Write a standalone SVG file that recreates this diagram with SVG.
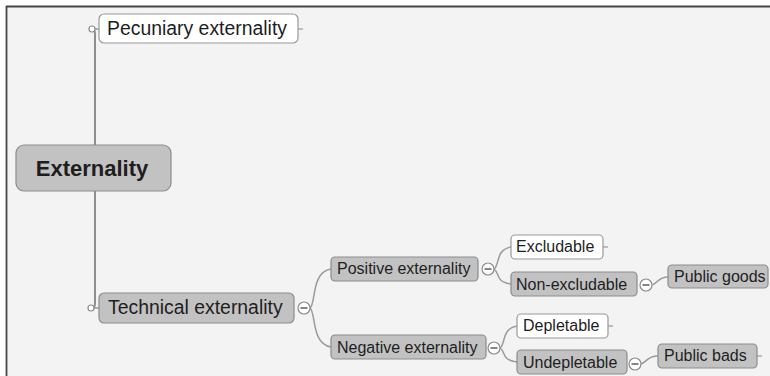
<svg xmlns="http://www.w3.org/2000/svg" width="770" height="376" viewBox="0 0 770 376">
  <style>
    text { font-family: "Liberation Sans", Arial, sans-serif; fill: #1e1e1e; }
    .gray { fill: #c2c2c2; stroke: #8c8c8c; stroke-width: 1.2; }
    .white { fill: #ffffff; stroke: #9a9a9a; stroke-width: 1.2; }
    .link { fill: none; stroke: #9a9a9a; stroke-width: 1.5; }
    .trunk { fill: none; stroke: #8e8e8e; stroke-width: 2; }
    .dot { fill: #ffffff; stroke: #8e8e8e; stroke-width: 1.2; }
    .toggle { fill: #ffffff; stroke: #8c8c8c; stroke-width: 1.2; }
    .minus { stroke: #444; stroke-width: 1.3; }
    .stub { stroke: #9a9a9a; stroke-width: 1.2; }
    .t16 { font-size: 16px; }
    .t19 { font-size: 19.4px; }
  </style>

  <!-- canvas and frame -->
  <rect x="0" y="0" width="770" height="376" fill="#ffffff"/>
  <rect x="6" y="6" width="764" height="370" fill="#f3f3f3"/>
  <line x1="6" y1="6.5" x2="770" y2="6.5" stroke="#454545" stroke-width="1.8"/>
  <line x1="6.5" y1="6" x2="6.5" y2="376" stroke="#454545" stroke-width="1.8"/>

  <g id="connectors">
    <!-- trunk from root to the two main branches -->
    <path class="trunk" d="M95,145 V34 Q95,29 92,29"/>
    <path class="trunk" d="M95,191 V303 Q95,308 92,308"/>
    <line class="link" x1="95" y1="29" x2="99" y2="29"/>
    <line class="link" x1="94" y1="308" x2="99" y2="308"/>
    <!-- technical externality children -->
    <path class="link" d="M310,308 C316,304 311,272 331,269"/>
    <path class="link" d="M310,308 C316,312 311,344 331,347"/>
    <!-- positive externality children -->
    <path class="link" d="M494,269 C500,265 495,250 511,247"/>
    <path class="link" d="M494,269 C500,273 495,282 511,284"/>
    <!-- negative externality children -->
    <path class="link" d="M500,348 C506,344 501,329 517,326"/>
    <path class="link" d="M500,348 C506,352 501,360 517,362"/>
    <!-- public goods / public bads -->
    <path class="link" d="M652,285 C658,283 658,277 668,277"/>
    <path class="link" d="M641,364 C647,362 647,356 658,356"/>
    <!-- leaf stubs -->
    <line class="stub" x1="298" y1="29" x2="303" y2="29"/>
    <line class="stub" x1="603" y1="247" x2="608" y2="247"/>
    <line class="stub" x1="608" y1="326" x2="613" y2="326"/>
    <line class="stub" x1="757" y1="356" x2="762" y2="356"/>
  </g>

  <g id="externality">
    <rect class="gray" x="16" y="145" width="155" height="46" rx="8"/>
    <text x="92" y="176" font-size="22" font-weight="bold" text-anchor="middle">Externality</text>
  </g>

  <g id="pecuniary">
    <circle class="dot" cx="92" cy="29" r="3"/>
    <rect class="white" x="99" y="14" width="199" height="29" rx="5"/>
    <text class="t19" x="107" y="35">Pecuniary externality</text>
  </g>

  <g id="technical">
    <circle class="dot" cx="91" cy="308" r="3"/>
    <rect class="gray" x="99" y="293" width="195" height="30" rx="5"/>
    <text class="t19" x="108" y="314">Technical externality</text>
    <circle class="toggle" cx="304" cy="308" r="6"/>
    <line class="minus" x1="300.5" y1="308" x2="307.5" y2="308"/>
  </g>

  <g id="positive">
    <rect class="gray" x="331" y="257" width="147" height="24" rx="4"/>
    <text class="t16" x="337" y="274">Positive externality</text>
    <circle class="toggle" cx="488" cy="269" r="6"/>
    <line class="minus" x1="484.5" y1="269" x2="491.5" y2="269"/>
  </g>

  <g id="excludable">
    <rect class="white" x="511" y="235" width="92" height="24" rx="4"/>
    <text class="t16" x="516" y="252">Excludable</text>
  </g>

  <g id="non-excludable">
    <rect class="gray" x="511" y="272" width="126" height="24" rx="4"/>
    <text class="t16" x="516" y="290">Non-excludable</text>
    <circle class="toggle" cx="646" cy="285" r="6"/>
    <line class="minus" x1="642.5" y1="285" x2="649.5" y2="285"/>
  </g>

  <g id="public-goods">
    <rect class="gray" x="668" y="265" width="100" height="23" rx="4"/>
    <text class="t16" x="674" y="282">Public goods</text>
  </g>

  <g id="negative">
    <rect class="gray" x="331" y="335" width="155" height="24" rx="4"/>
    <text class="t16" x="337" y="353">Negative externality</text>
    <circle class="toggle" cx="494" cy="348" r="6"/>
    <line class="minus" x1="490.5" y1="348" x2="497.5" y2="348"/>
  </g>

  <g id="depletable">
    <rect class="white" x="517" y="314" width="91" height="24" rx="4"/>
    <text class="t16" x="523" y="331">Depletable</text>
  </g>

  <g id="undepletable">
    <rect class="gray" x="517" y="350" width="110" height="24" rx="4"/>
    <text class="t16" x="523" y="368">Undepletable</text>
    <circle class="toggle" cx="635" cy="364" r="6"/>
    <line class="minus" x1="631.5" y1="364" x2="638.5" y2="364"/>
  </g>

  <g id="public-bads">
    <rect class="gray" x="658" y="344" width="99" height="24" rx="4"/>
    <text class="t16" x="664" y="361">Public bads</text>
  </g>
</svg>
